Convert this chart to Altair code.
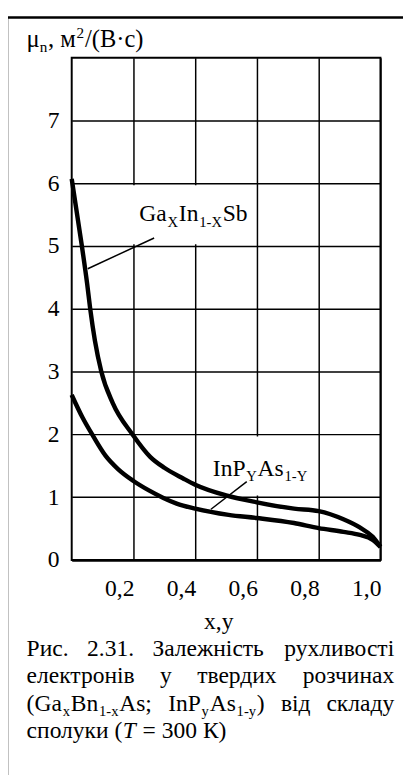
import altair as alt
import pandas as pd

# ---------------- data ----------------
gis_x = [0.0, 0.033, 0.05, 0.06, 0.075, 0.096, 0.133, 0.197, 0.255, 0.30, 0.361,
         0.40, 0.50, 0.60, 0.72, 0.80, 0.88, 0.933, 0.975, 1.0]
gis_y = [6.07, 5.0, 4.4, 4.0, 3.5, 3.0, 2.5, 2.0, 1.64, 1.47, 1.30,
         1.20, 1.03, 0.92, 0.82, 0.78, 0.65, 0.52, 0.37, 0.21]

inp_x = [0.0, 0.035, 0.07, 0.11, 0.15, 0.2, 0.25, 0.297, 0.34, 0.40, 0.508, 0.60, 0.72,
         0.80, 0.88, 0.933, 0.975, 1.0]
inp_y = [2.63, 2.27, 1.97, 1.66, 1.45, 1.26, 1.11, 0.99, 0.90, 0.82, 0.72, 0.67, 0.59,
         0.51, 0.45, 0.40, 0.32, 0.21]

x_ticks = [0.2, 0.4, 0.6, 0.8, 1.0]
x_labels = ["0,2", "0,4", "0,6", "0,8", "1,0"]
y_ticks = [0, 1, 2, 3, 4, 5, 6, 7]

# leader lines of the two curve labels (data units)
lead_x = [0.052, 0.451]
lead_y = [4.64, 0.81]
lead_x2 = [0.267, 0.567]
lead_y2 = [5.13, 1.25]

# white boxes under the curve labels (data units)
box_x = [0.17, 0.42]
box_x2 = [0.59, 0.78]
box_y = [5.03, 1.03]
box_y2 = [5.97, 1.97]

FONT = "'Liberation Serif', 'Times New Roman', Times, serif"
FS = 24

# ---------------- layout geometry ----------------
PL, PT = 73, 51          # plot origin on the page
W_PLOT, H_PLOT = 315, 512.5

# Times-like advance widths (em/1000)
WID = {
    'G': 722, 'a': 444, 'I': 333, 'n': 500, 'S': 556, 'b': 500, 'X': 722, 'Y': 722,
    'x': 500, 'y': 500, '1': 500, '2': 500, '3': 500, '0': 500, '-': 333, 'B': 667,
    'A': 722, 's': 389, ';': 278, 'P': 556, '(': 333, ')': 333, ' ': 250, ',': 250,
    '.': 250, '/': 278, 'μ': 500, 'м': 632, 'В': 667, '·': 250, 'с': 444,
    'Р': 556, 'и': 535, 'З': 600, 'а': 444, 'л': 500, 'е': 444, 'ж': 691, 'н': 535,
    'і': 278, 'т': 437, 'ь': 457, 'р': 500, 'у': 500, 'х': 500, 'в': 472, 'о': 500,
    'к': 485, 'д': 500, 'ч': 500, 'з': 395, 'п': 535, 'T': 556, '=': 564, 'К': 722,
}
GAP = 0.8  # tiny gap between segments of one word


def tw(s, fs):
    return sum(WID.get(c, 500) for c in s) / 1000 * fs


def segs_width(segs, fs):
    w = 0
    for t, k in segs:
        w += tw(t, fs if k == 'm' else fs * 0.62) + GAP
    return w - GAP


def layout(segs, x0, base, fs):
    rows = []
    x = x0
    for t, k in segs:
        if k == 'm':
            size, y = fs, base
        elif k == 'sub':
            size, y = fs * 0.62, base + fs * 0.22
        else:  # sup
            size, y = fs * 0.62, base - fs * 0.38
        rows.append(dict(px=x - PL, py=y - PT, t=t, fs=size))
        x += tw(t, size) + GAP
    return rows


left_rows = []
right_rows = []
italic_rows = []

# y axis title
left_rows += layout([("μ", 'm'), ("n", 'sub'), (", м", 'm'), ("2", 'sup'), ("/(В·с)", 'm')],
                    27, 40, 25)

# curve labels
left_rows += layout([("Ga", 'm'), ("X", 'sub'), ("In", 'm'), ("1-X", 'sub'), ("Sb", 'm')],
                    142, 218, FS)
left_rows += layout([("InP", 'm'), ("Y", 'sub'), ("As", 'm'), ("1-Y", 'sub')],
                    217, 478, FS)

# x axis title
center_rows = [dict(px=223 - PL, py=634 - PT, t="x,y", fs=FS)]

# caption (justified)
CL, CR = 27, 402
cap_lines = [
    ([[("Рис.", 'm')], [("2.31.", 'm')], [("Залежність", 'm')], [("рухливості", 'm')]], 661),
    ([[("електронів", 'm')], [("у", 'm')], [("твердих", 'm')], [("розчинах", 'm')]], 689),
    ([[("(Ga", 'm'), ("x", 'sub'), ("Bn", 'm'), ("1-x", 'sub'), ("As;", 'm')],
      [("InP", 'm'), ("y", 'sub'), ("As", 'm'), ("1-y", 'sub'), (")", 'm')],
      [("від", 'm')], [("складу", 'm')]], 717),
]
for words, base in cap_lines:
    widths = [segs_width(wd, FS) for wd in words]
    gap = (CR - CL - sum(widths)) / (len(words) - 1)
    x = CL
    for i, wd in enumerate(words):
        if i == len(words) - 1:
            right_rows.append(dict(px=CR - PL, py=base - PT, t=wd[0][0], fs=FS))
        else:
            left_rows += layout(wd, x, base, FS)
        x += widths[i] + gap

# last caption line (leading spaces are collapsed in SVG, so place pieces explicitly)
x0 = 27
left_rows.append(dict(px=x0 - PL, py=745 - PT, t="сполуки (", fs=FS))
x1 = x0 + tw("сполуки (", FS)
italic_rows.append(dict(px=x1 - PL, py=745 - PT, t="T", fs=FS))
x2 = x1 + tw("T", FS) + tw(" ", FS) + 1
left_rows.append(dict(px=x2 - PL, py=745 - PT, t="= 300 К)", fs=FS))

# ---------------- chart ----------------
curves = pd.concat([
    pd.DataFrame({"x": gis_x, "y": gis_y, "s": "GaInSb"}),
    pd.DataFrame({"x": inp_x, "y": inp_y, "s": "InPAs"}),
])

xscale = alt.Scale(domain=[0, 1], nice=False, zero=False)
yscale = alt.Scale(domain=[0, 8], nice=False)

x_axis = alt.Axis(values=x_ticks, grid=True, gridColor="black", gridWidth=1.5, gridOpacity=1,
                  ticks=False, domain=False, labels=False, title=None)
y_axis = alt.Axis(values=y_ticks, grid=True, gridColor="black", gridWidth=1.5, gridOpacity=1,
                  ticks=False, domain=False, labelFont=FONT, labelFontSize=FS, labelColor="black",
                  labelPadding=13, format="d", title=None)

boxes = alt.Chart(pd.DataFrame({"x": box_x, "x2": box_x2, "y": box_y, "y2": box_y2})).mark_rect(
    color="white").encode(
    x=alt.X("x:Q", scale=xscale, axis=x_axis), x2="x2:Q",
    y=alt.Y("y:Q", scale=yscale, axis=y_axis), y2="y2:Q")

lines = alt.Chart(curves).mark_line(color="black", strokeWidth=4.5, interpolate="monotone").encode(
    x=alt.X("x:Q", scale=xscale), y=alt.Y("y:Q", scale=yscale), detail="s:N")

leaders = alt.Chart(pd.DataFrame({"x": lead_x, "y": lead_y, "x2": lead_x2, "y2": lead_y2})).mark_rule(
    color="black", strokeWidth=1.5).encode(
    x=alt.X("x:Q", scale=xscale), y=alt.Y("y:Q", scale=yscale), x2="x2:Q", y2="y2:Q")

xlabels = alt.Chart(pd.DataFrame({"x": x_ticks, "t": x_labels})).mark_text(
    font=FONT, fontSize=FS, color="black", align="center", baseline="alphabetic", dx=-14).encode(
    x=alt.X("x:Q", scale=xscale), y=alt.value(600 - PT), text="t:N")


def text_layer(rows, align, style="normal"):
    return alt.Chart(pd.DataFrame(rows)).mark_text(
        font=FONT, color="black", align=align, baseline="alphabetic", fontStyle=style).encode(
        x=alt.X("px:Q", scale=None), y=alt.Y("py:Q", scale=None),
        text="t:N", size=alt.Size("fs:Q", scale=None, legend=None))


texts = [
    text_layer(left_rows, "left"),
    text_layer(right_rows, "right"),
    text_layer(center_rows, "center"),
    text_layer(italic_rows, "left", "italic"),
]

frame = alt.Chart(pd.DataFrame({"a": [0]})).mark_rule(color="black", strokeWidth=2.5)
frame_top = frame.encode(x=alt.value(7 - PL), x2=alt.value(420 - PL), y=alt.value(10 - PT))
frame_left = frame.encode(x=alt.value(7 - PL), y=alt.value(10 - PT), y2=alt.value(790 - PT))

chart = alt.layer(boxes, lines, leaders, xlabels, *texts, frame_top, frame_left).properties(
    width=W_PLOT, height=H_PLOT,
    padding={"left": PL - 8, "top": PT - 8, "right": 403 - (PL - 8) - W_PLOT,
             "bottom": 767 - (PT - 8) - H_PLOT},
    autosize=alt.AutoSizeParams(type="none"),
    background="white",
).configure_view(stroke="black", strokeWidth=2)

chart.save("out.html", embed_options={"renderer": "svg", "actions": False})
